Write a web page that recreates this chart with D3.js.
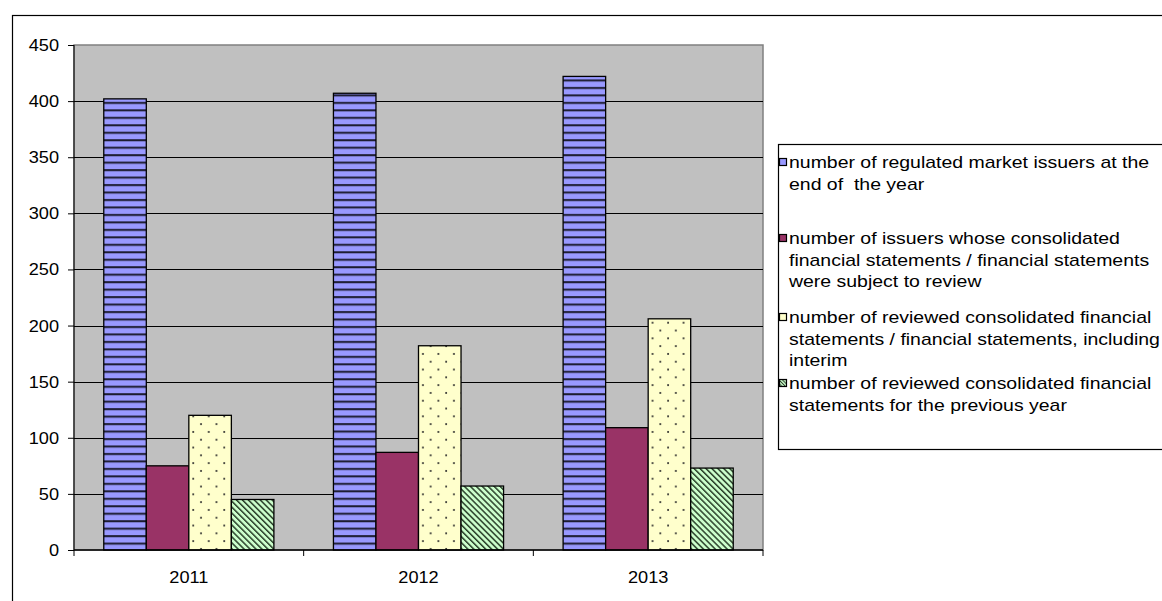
<!DOCTYPE html>
<html>
<head>
<meta charset="utf-8">
<script src="https://cdn.jsdelivr.net/npm/d3@7"></script>
<style>
  body { margin: 0; background: #fff; }
  svg { display: block; font-family: "Liberation Sans", Arial, sans-serif; }
</style>
</head>
<body>
<svg id="chart" width="1162" height="601"></svg>
<script>
// data
var years = ["2011", "2012", "2013"];
var regulatedIssuers = [402, 407, 422];
var reviewedIssuers = [75, 87, 109];
var reviewedStatements = [120, 182, 206];
var previousYearStatements = [45, 57, 73];
var yTicks = [0, 50, 100, 150, 200, 250, 300, 350, 400, 450];
var legendLabels = [
  ["number of regulated market issuers at the", "end of  the year"],
  ["number of issuers whose consolidated", "financial statements / financial statements", "were subject to review"],
  ["number of reviewed consolidated financial", "statements / financial statements, including", "interim"],
  ["number of reviewed consolidated financial", "statements for the previous year"]
];

var series = [regulatedIssuers, reviewedIssuers, reviewedStatements, previousYearStatements];
var fills = ["url(#stripes)", "#993366", "url(#dots)", "url(#hatch)"];
var swatchFills = ["#9999FF", "#993366", "#FFFFCC", "url(#hatchSmall)"];

// layout
var plot = {left: 74, top: 45, right: 763, bottom: 550};
var legendBox = {x: 778.5, y: 144.5, w: 420, h: 305};
var legendRows = [162, 238, 317, 383];
var lineHeight = 21.7;
var fontSize = 17;

var svg = d3.select("#chart");

// patterns
var defs = svg.append("defs");

var stripes = defs.append("pattern")
  .attr("id", "stripes")
  .attr("patternUnits", "userSpaceOnUse")
  .attr("width", 8).attr("height", 7.47);
stripes.append("rect").attr("width", 8).attr("height", 7.47).attr("fill", "#9999FF");
stripes.append("rect").attr("y", 4.8).attr("width", 8).attr("height", 2).attr("fill", "#1c1c30");

var dots = defs.append("pattern")
  .attr("id", "dots")
  .attr("patternUnits", "userSpaceOnUse")
  .attr("width", 15.5).attr("height", 15.6);
dots.append("rect").attr("width", 15.5).attr("height", 15.6).attr("fill", "#FFFFCC");
dots.append("circle").attr("cx", 3).attr("cy", 3).attr("r", 1).attr("fill", "#222");
dots.append("circle").attr("cx", 10.75).attr("cy", 10.8).attr("r", 1).attr("fill", "#222");

var hatch = defs.append("pattern")
  .attr("id", "hatch")
  .attr("patternUnits", "userSpaceOnUse")
  .attr("width", 4.2).attr("height", 10)
  .attr("patternTransform", "rotate(-45)");
hatch.append("rect").attr("width", 4.2).attr("height", 10).attr("fill", "#CCFFCC");
hatch.append("rect").attr("width", 1.5).attr("height", 10).attr("fill", "#2a402a");

var hatchSmall = defs.append("pattern")
  .attr("id", "hatchSmall")
  .attr("patternUnits", "userSpaceOnUse")
  .attr("width", 2.5).attr("height", 10)
  .attr("patternTransform", "rotate(-45)");
hatchSmall.append("rect").attr("width", 2.5).attr("height", 10).attr("fill", "#CCFFCC");
hatchSmall.append("rect").attr("width", 1).attr("height", 10).attr("fill", "#2a402a");

// outer frame
svg.append("rect")
  .attr("x", 12.5).attr("y", 15.5)
  .attr("width", 1200).attr("height", 620)
  .attr("fill", "#fff")
  .attr("stroke", "#000").attr("stroke-width", 1.2);

var x0 = d3.scaleBand().domain(years).range([plot.left, plot.right]).padding(0);
var x1 = d3.scaleBand().domain(d3.range(series.length))
  .range([0, x0.bandwidth()]).paddingInner(0).paddingOuter(0.7);
var y = d3.scaleLinear().domain([0, 450]).range([plot.bottom, plot.top]);

// plot background
svg.append("rect")
  .attr("x", plot.left).attr("y", plot.top)
  .attr("width", plot.right - plot.left).attr("height", plot.bottom - plot.top)
  .attr("fill", "#C0C0C0")
  .attr("stroke", "#808080").attr("stroke-width", 1.5);

// gridlines
svg.append("g")
  .selectAll("line")
  .data(yTicks.filter(function (d) { return d > 0 && d < 450; }))
  .join("line")
  .attr("x1", plot.left).attr("x2", plot.right)
  .attr("y1", function (d) { return Math.round(y(d)) + 0.5; })
  .attr("y2", function (d) { return Math.round(y(d)) + 0.5; })
  .attr("stroke", "#000").attr("stroke-width", 1);

// bars
var groups = svg.append("g")
  .selectAll("g")
  .data(years)
  .join("g")
  .attr("transform", function (d) { return "translate(" + x0(d) + ",0)"; });

groups.selectAll("rect")
  .data(function (d, i) {
    return series.map(function (s, k) { return {k: k, v: s[i]}; });
  })
  .join("rect")
  .attr("x", function (d) { return x1(d.k); })
  .attr("y", function (d) { return y(d.v); })
  .attr("width", x1.bandwidth())
  .attr("height", function (d) { return y(0) - y(d.v); })
  .attr("fill", function (d) { return fills[d.k]; })
  .attr("stroke", "#000").attr("stroke-width", 1.3);

// y axis
var yAxis = svg.append("g")
  .attr("transform", "translate(" + plot.left + ",0)")
  .call(d3.axisLeft(y).tickValues(yTicks).tickSize(6).tickPadding(8).tickFormat(d3.format("d")));
yAxis.selectAll("text")
  .attr("font-size", fontSize).attr("fill", "#000")
  .attr("font-family", "Liberation Sans, Arial, sans-serif")
  .attr("transform", "scale(1.07,1)");
yAxis.selectAll("line").attr("stroke", "#000");
yAxis.select(".domain").attr("stroke", "#000").attr("d", "M0," + plot.bottom + "V" + plot.top);

// x axis
var xAxis = svg.append("g")
  .attr("transform", "translate(0," + plot.bottom + ")");
xAxis.append("line")
  .attr("x1", plot.left).attr("x2", plot.right)
  .attr("stroke", "#000").attr("stroke-width", 1.3);
xAxis.selectAll(".tick")
  .data([plot.left].concat(years.map(function (d) { return x0(d) + x0.bandwidth(); })))
  .join("line")
  .attr("class", "tick")
  .attr("x1", function (d) { return d; }).attr("x2", function (d) { return d; })
  .attr("y1", 0).attr("y2", 6)
  .attr("stroke", "#000");
xAxis.selectAll("text")
  .data(years)
  .join("text")
  .attr("transform", function (d) {
    return "translate(" + (x0(d) + x0.bandwidth() / 2) + ",33) scale(1.07,1)";
  })
  .attr("text-anchor", "middle")
  .attr("font-size", fontSize)
  .text(function (d) { return d; });

// legend
svg.append("rect")
  .attr("x", legendBox.x).attr("y", legendBox.y)
  .attr("width", legendBox.w).attr("height", legendBox.h)
  .attr("fill", "#fff")
  .attr("stroke", "#000").attr("stroke-width", 1.2);

var items = svg.append("g")
  .selectAll("g")
  .data(legendLabels)
  .join("g")
  .attr("transform", function (d, i) { return "translate(0," + legendRows[i] + ")"; });

items.append("rect")
  .attr("x", 779.5).attr("y", -3.5)
  .attr("width", 7).attr("height", 7)
  .attr("fill", function (d, i) { return swatchFills[i]; })
  .attr("stroke", "#000").attr("stroke-width", 1.2);

items.append("text")
  .attr("transform", "translate(789,0) scale(1.145,1)")
  .attr("font-size", fontSize)
  .attr("fill", "#000")
  .style("white-space", "pre")
  .selectAll("tspan")
  .data(function (d) { return d; })
  .join("tspan")
  .attr("x", 0)
  .attr("y", function (d, j) { return j * lineHeight + 6; })
  .text(function (d) { return d; });
</script>
</body>
</html>
